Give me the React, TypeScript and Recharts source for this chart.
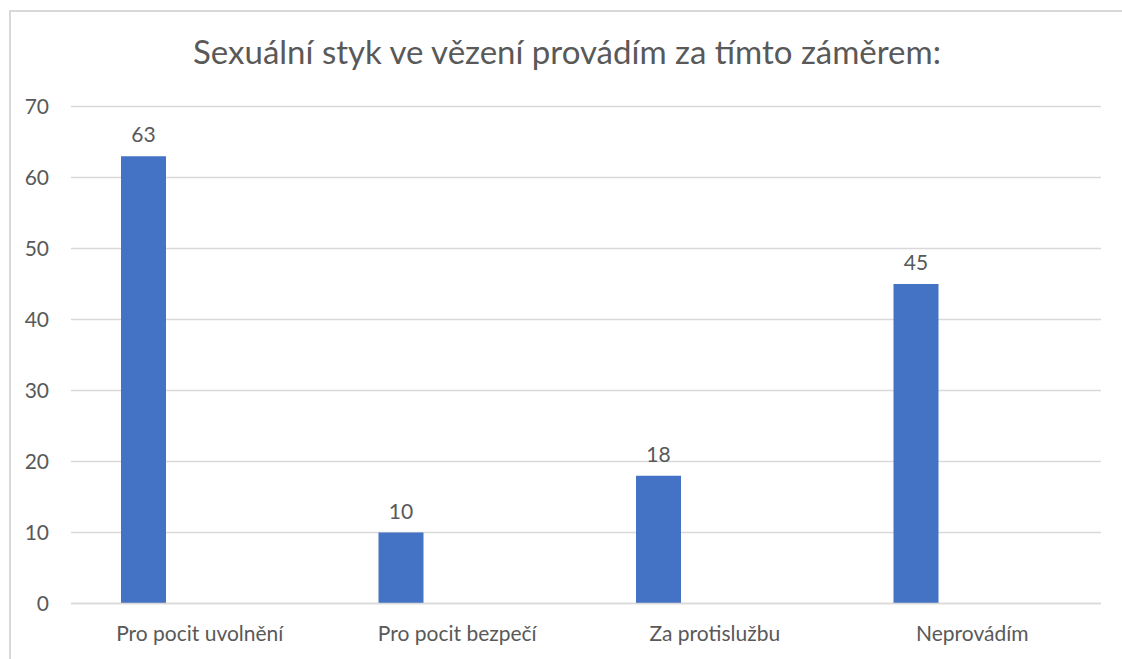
import { Bar, BarChart, CartesianGrid, LabelList, XAxis, YAxis } from "recharts";

const categories = [
	"Pro pocit uvolnění",
	"Pro pocit bezpečí",
	"Za protislužbu",
	"Neprovádím",
];
const odpovedi = [63, 10, 18, 45];
// second series in the source sheet is empty, it only reserves room in each group
const prazdnaRada = [null, null, null, null];
const yTicks = [0, 10, 20, 30, 40, 50, 60, 70];

const data = categories.map((name, i) => ({
	name,
	odpovedi: odpovedi[i],
	prazdna: prazdnaRada[i],
}));

const textColor = "#595959";
const font = "Lato, 'Open Sans', sans-serif";

export default function App() {
	// fixed so the frame can run off the page edge without scrollbars
	return (
		<div
			style={{
				position: "fixed",
				left: 0,
				top: 0,
				width: 1122,
				height: 659,
				overflow: "hidden",
				fontFamily: font,
				background: "#fff",
			}}
		>
			<div
				style={{
					position: "absolute",
					left: 9,
					top: 10,
					width: 1130,
					height: 670,
					borderLeft: "2px solid #d9d9d9",
					borderTop: "2px solid #d9d9d9",
					boxSizing: "border-box",
				}}
			/>
			<div
				style={{
					position: "absolute",
					left: 0,
					width: 1134,
					top: 31,
					textAlign: "center",
					fontSize: 33,
					color: textColor,
					whiteSpace: "nowrap",
				}}
			>
				Sexuální styk ve vězení provádím za tímto záměrem:
			</div>
			<div style={{ position: "absolute", left: 8, top: 8 }}>
				<BarChart
					width={1114}
					height={651}
					data={data}
					margin={{ top: 98.5, right: 21, left: 0, bottom: 0 }}
					barSize={45}
					barGap={68.5}
					barCategoryGap={0}
				>
					<CartesianGrid vertical={false} stroke="#d9d9d9" strokeWidth={1.5} />
					<XAxis
						dataKey="name"
						height={55.5}
						axisLine={{ stroke: "#d9d9d9", strokeWidth: 1.5 }}
						tickLine={false}
						tickSize={0}
						tickMargin={23}
						tick={{ fill: textColor, fontSize: 21, fontFamily: font }}
						interval={0}
					/>
					<YAxis
						width={63}
						domain={[0, 70]}
						ticks={yTicks}
						axisLine={false}
						tickLine={false}
						tickSize={0}
						tickMargin={22}
						tick={{ fill: textColor, fontSize: 21, fontFamily: font }}
					/>
					<Bar dataKey="odpovedi" fill="#4472c4" isAnimationActive={false}>
						<LabelList
							dataKey="odpovedi"
							position="top"
							offset={14}
							fill={textColor}
							fontSize={21}
							fontFamily={font}
						/>
					</Bar>
					<Bar dataKey="prazdna" fill="#ed7d31" isAnimationActive={false} />
				</BarChart>
			</div>
		</div>
	);
}
